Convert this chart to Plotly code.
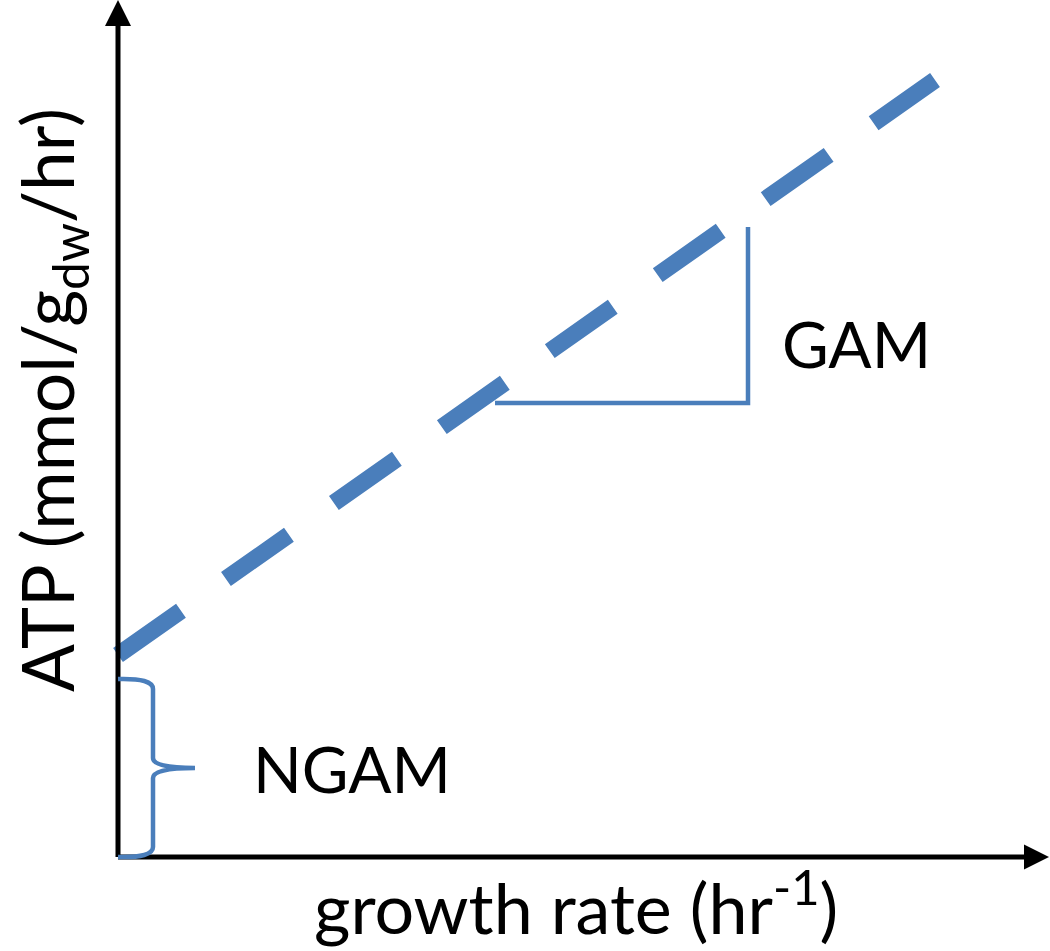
import plotly.graph_objects as go

# ---- data (conceptual units; origin at the axes corner) ----
growth_rate = [0, 817]          # x extent of ATP line
atp = [202, 777]                # ATP demand at those growth rates
ngam = [0, 178]                 # brace span (non-growth associated maintenance)
ngam_tip = [35, 77]             # brace spine x, brace tip x
gam_x = [377, 630, 630]         # GAM slope triangle
gam_y = [454, 454, 630]
x_axis_end = 931
y_axis_end = 857
labels = {
    "x": "growth rate (hr<sup>-1</sup>)",
    "y": "ATP (mmol/g<sub>dw</sub>/hr)",
    "gam": "GAM",
    "ngam": "NGAM",
}

BLUE = "#4A7EBB"
FONT = "Lato"

fig = go.Figure()

# dashed ATP line
fig.add_trace(go.Scatter(
    x=growth_rate, y=atp, mode="lines",
    line=dict(color=BLUE, width=17, dash="77px,55px"),
    hoverinfo="skip", showlegend=False,
))
# GAM triangle
fig.add_trace(go.Scatter(
    x=gam_x, y=gam_y, mode="lines",
    line=dict(color=BLUE, width=4.5),
    hoverinfo="skip", showlegend=False,
))

shapes = []
# axes lines
shapes.append(dict(type="line", x0=0, y0=0, x1=x_axis_end - 25, y1=0,
                   xref="x", yref="y", line=dict(color="black", width=5)))
shapes.append(dict(type="line", x0=0, y0=0, x1=0, y1=y_axis_end - 25,
                   xref="x", yref="y", line=dict(color="black", width=5)))
# arrowheads
shapes.append(dict(type="path", xref="x", yref="y",
                   path=f"M {x_axis_end},0 L {x_axis_end-25},12.5 L {x_axis_end-25},-12.5 Z",
                   fillcolor="black", line=dict(color="black", width=0)))
shapes.append(dict(type="path", xref="x", yref="y",
                   path=f"M 0,{y_axis_end} L -13,{y_axis_end-26} L 13,{y_axis_end-26} Z",
                   fillcolor="black", line=dict(color="black", width=0)))
# NGAM brace
b0, b1 = ngam
s, t = ngam_tip
m = (b0 + b1) / 2
brace = (f"M 0,{b1} Q {s},{b1+1} {s},{b1-10} L {s},{m+10} "
         f"Q {s},{m} {t},{m} Q {s},{m} {s},{m-10} "
         f"L {s},{b0+10} Q {s},{b0-1} 0,{b0}")
shapes.append(dict(type="path", xref="x", yref="y", path=brace,
                   line=dict(color=BLUE, width=4.5)))

annotations = [
    dict(x=-66, y=457, text=labels["y"], textangle=-90, showarrow=False,
         font=dict(family=FONT, size=71, color="black"), xref="x", yref="y"),
    dict(x=458, y=-46, text=labels["x"], showarrow=False,
         font=dict(family=FONT, size=70, color="black"), xref="x", yref="y"),
    dict(x=738, y=514, text=labels["gam"], showarrow=False,
         font=dict(family=FONT, size=64, color="black"), xref="x", yref="y"),
    dict(x=234, y=89, text=labels["ngam"], showarrow=False,
         font=dict(family=FONT, size=64, color="black"), xref="x", yref="y"),
]

fig.update_layout(
    width=1050, height=951,
    margin=dict(l=0, r=0, t=0, b=0),
    paper_bgcolor="white", plot_bgcolor="white",
    xaxis=dict(range=[-118, 932], visible=False, fixedrange=True),
    yaxis=dict(range=[-94, 857], visible=False, fixedrange=True),
    shapes=shapes, annotations=annotations,
)

fig.write_html("out.html", config={"displayModeBar": False},
               post_script="document.body.style.margin='0';")
